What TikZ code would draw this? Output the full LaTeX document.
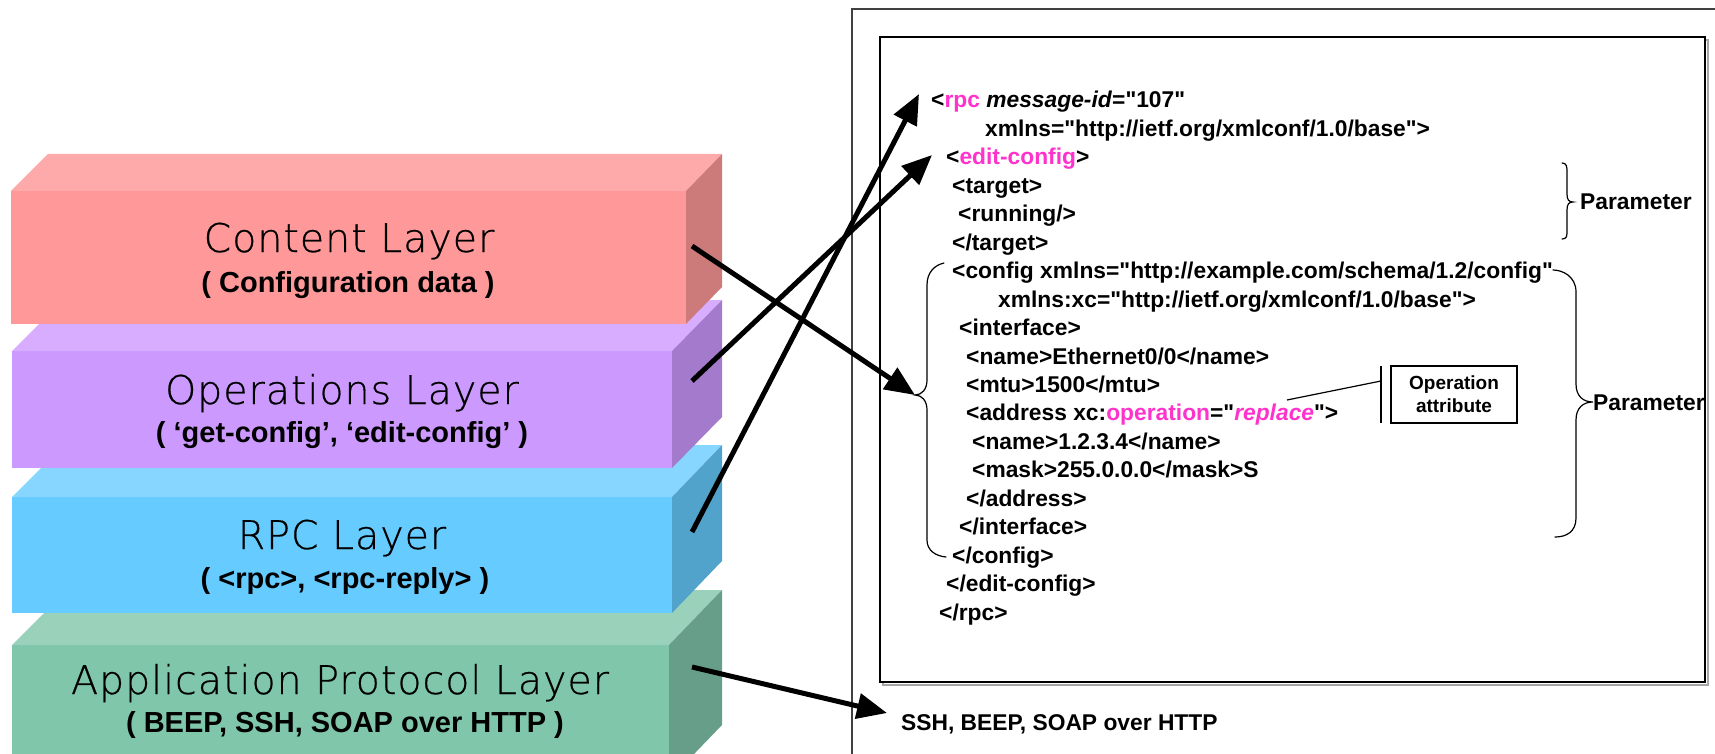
\documentclass[tikz,border=0pt]{standalone}
\usepackage{fontspec}
\newfontfamily\codefont{Liberation Sans}
\newfontfamily\thinfont{DejaVu Sans ExtraLight}[FakeBold=0.5, LetterSpace=2.5]
\usetikzlibrary{arrows.meta}

\definecolor{redFront}{HTML}{FF9999}
\definecolor{redTop}{HTML}{FFAAAA}
\definecolor{redSide}{HTML}{CC7A7A}
\definecolor{purFront}{HTML}{CC99FF}
\definecolor{purTop}{HTML}{D8ADFF}
\definecolor{purSide}{HTML}{A47ACC}
\definecolor{bluFront}{HTML}{66CCFF}
\definecolor{bluTop}{HTML}{86D6FF}
\definecolor{bluSide}{HTML}{52A3CC}
\definecolor{grnFront}{HTML}{7FC6AB}
\definecolor{grnTop}{HTML}{99D1BB}
\definecolor{grnSide}{HTML}{669E89}
\definecolor{hot}{HTML}{FF33CC}

\begin{document}
\begin{tikzpicture}[x=1pt,y=-1pt,
  layertitle/.style={font=\thinfont\fontsize{39.5}{44}\selectfont, anchor=base, inner sep=0pt},
  layersub/.style={font=\codefont\bfseries\fontsize{29}{33}\selectfont, anchor=base, inner sep=0pt},
  code/.style={font=\codefont\bfseries\fontsize{22.8}{27}\selectfont, anchor=base west, inner sep=0pt},
  bigarrow/.style={line width=5pt, -{Triangle[length=30pt,width=25pt]}},
  brace/.style={line width=1.2pt, line cap=round},
]
\useasboundingbox (0,0) rectangle (1715,754);
\clip (0,0) rectangle (1715,754);

% ---- layer stack (drawn back to front) ----
% application protocol layer
\fill[grnFront] (12,645) rectangle (669,780);
\fill[grnTop] (12,645) -- (67,590) -- (722,590) -- (669,645) -- cycle;
\fill[grnSide] (669,645) -- (722,590) -- (722,725) -- (669,780) -- cycle;
% rpc layer
\fill[bluFront] (12,497) rectangle (672,613);
\fill[bluTop] (12,497) -- (64,445) -- (722,445) -- (672,497) -- cycle;
\fill[bluSide] (672,497) -- (722,445) -- (722,561) -- (672,613) -- cycle;
% operations layer
\fill[purFront] (12,351) rectangle (672,468);
\fill[purTop] (12,351) -- (63,300) -- (722,300) -- (672,351) -- cycle;
\fill[purSide] (672,351) -- (722,300) -- (722,417) -- (672,468) -- cycle;
% content layer
\fill[redFront] (11,191) rectangle (686,324);
\fill[redTop] (11,191) -- (48,154) -- (722,154) -- (686,191) -- cycle;
\fill[redSide] (686,191) -- (722,154) -- (722,287) -- (686,324) -- cycle;

\node[layertitle] (contT) at (349,252) {Content Layer};
\node[layersub]   (contS) at (348,292) {( Configuration data )};
\node[layertitle] (opsT)  at (342,404) {Operations Layer};
\node[layersub]   (opsS)  at (342,442) {( ‘get-config’, ‘edit-config’ )};
\node[layertitle] (rpcT)  at (342,549) {RPC Layer};
\node[layersub]   (rpcS)  at (345,588) {( <rpc>, <rpc-reply> )};
\node[layertitle] (appT)  at (340,694) {Application Protocol Layer};
\node[layersub]   (appS)  at (345,732) {( BEEP, SSH, SOAP over HTTP )};

% ---- message panel ----
\draw[line width=1.2pt, black!75] (852,9) rectangle (1760,800);
\draw[line width=1.2pt, black!35] (883,40) rectangle (1708,685);
\draw[line width=1.5pt, fill=white] (880,37) rectangle (1705,682);

\node[code] (l1)  at (931,108)    {<\textcolor{hot}{rpc} \textit{message-id}="107"};
\node[code] (l2)  at (985,136.45) {xmlns="http://ietf.org/xmlconf/1.0/base">};
\node[code] (l3)  at (946,164.9)  {<\textcolor{hot}{edit-config}>};
\node[code] (l4)  at (952,193.35) {<target>};
\node[code] (l5)  at (958,221.8)  {<running/>};
\node[code] (l6)  at (952,250.25) {</target>};
\node[code] (l7)  at (952,278.7)  {<config xmlns="http://example.com/schema/1.2/config"};
\node[code] (l8)  at (998,307.15) {xmlns:xc="http://ietf.org/xmlconf/1.0/base">};
\node[code] (l9)  at (959,335.6)  {<interface>};
\node[code] (l10) at (966,364.05) {<name>Ethernet0/0</name>};
\node[code] (l11) at (966,392.5)  {<mtu>1500</mtu>};
\node[code] (l12) at (966,420.95) {<address xc:\textcolor{hot}{operation}="\textcolor{hot}{\textit{replace}}">};
\node[code] (l13) at (972,449.4)  {<name>1.2.3.4</name>};
\node[code] (l14) at (972,477.85) {<mask>255.0.0.0</mask>S};
\node[code] (l15) at (966,506.3)  {</address>};
\node[code] (l16) at (959,534.75) {</interface>};
\node[code] (l17) at (952,563.2)  {</config>};
\node[code] (l18) at (946,591.65) {</edit-config>};
\node[code] (l19) at (939,620.1)  {</rpc>};
\node[code] (ssh) at (901,730)    {SSH, BEEP, SOAP over HTTP};

% braces
\draw[brace] (1562,163) .. controls (1567,163) and (1567,167) .. (1567,173)
  -- (1567,194) .. controls (1567,200) and (1569,202) .. (1573,202)
  .. controls (1569,202) and (1567,204) .. (1567,210)
  -- (1567,230) .. controls (1567,236) and (1567,239) .. (1562,239);
\node[code, anchor=west] (par1) at (1580,202) {Parameter};

\draw[brace] (1553,270) .. controls (1562,270) and (1576,276) .. (1576,292)
  -- (1576,384) .. controls (1576,396) and (1583,402) .. (1593,402)
  .. controls (1583,402) and (1576,408) .. (1576,420)
  -- (1576,518) .. controls (1576,532) and (1566,537) .. (1555,537);
\node[code, anchor=west] (par2) at (1593,403) {Parameter};

\coordinate (ltip) at (915,395);
\draw[brace] (944,263) .. controls (935,265) and (927,272) .. (927,285)
  -- (927,380) .. controls (927,389) and (922,395) .. (ltip)
  .. controls (922,395) and (927,401) .. (927,410)
  -- (927,540) .. controls (927,550) and (935,556) .. (946,557);

% operation attribute callout
\node[draw, line width=1.2pt, minimum width=126pt, minimum height=57pt, inner sep=0pt,
      align=center, font=\codefont\bfseries\fontsize{19}{23}\selectfont]
  (opattr) at (1454,394.5) {Operation\\attribute};
\coordinate (barT) at (1381,366);
\coordinate (barB) at (1381,423);
\coordinate (barM) at (1381,381);
\coordinate (opref) at (1287,400);
\draw[line width=1.2pt] (barT) -- (barB);
\draw[line width=1.2pt] (opref) -- (barM);

% ---- layer-to-message arrows ----
\coordinate (fromCont) at (692,246);
\coordinate (fromOps)  at (692,381);
\coordinate (fromRpc)  at (692,532);
\coordinate (fromApp)  at (692,667);
\coordinate (toRpc)  at (919,94);
\coordinate (toEdit) at (932,155);
\coordinate (toSsh)  at (887,713);
\draw[bigarrow] (fromCont) -- (ltip);
\draw[bigarrow] (fromOps) -- (toEdit);
\draw[bigarrow] (fromRpc) -- (toRpc);
\draw[bigarrow] (fromApp) -- (toSsh);
\end{tikzpicture}
\end{document}
